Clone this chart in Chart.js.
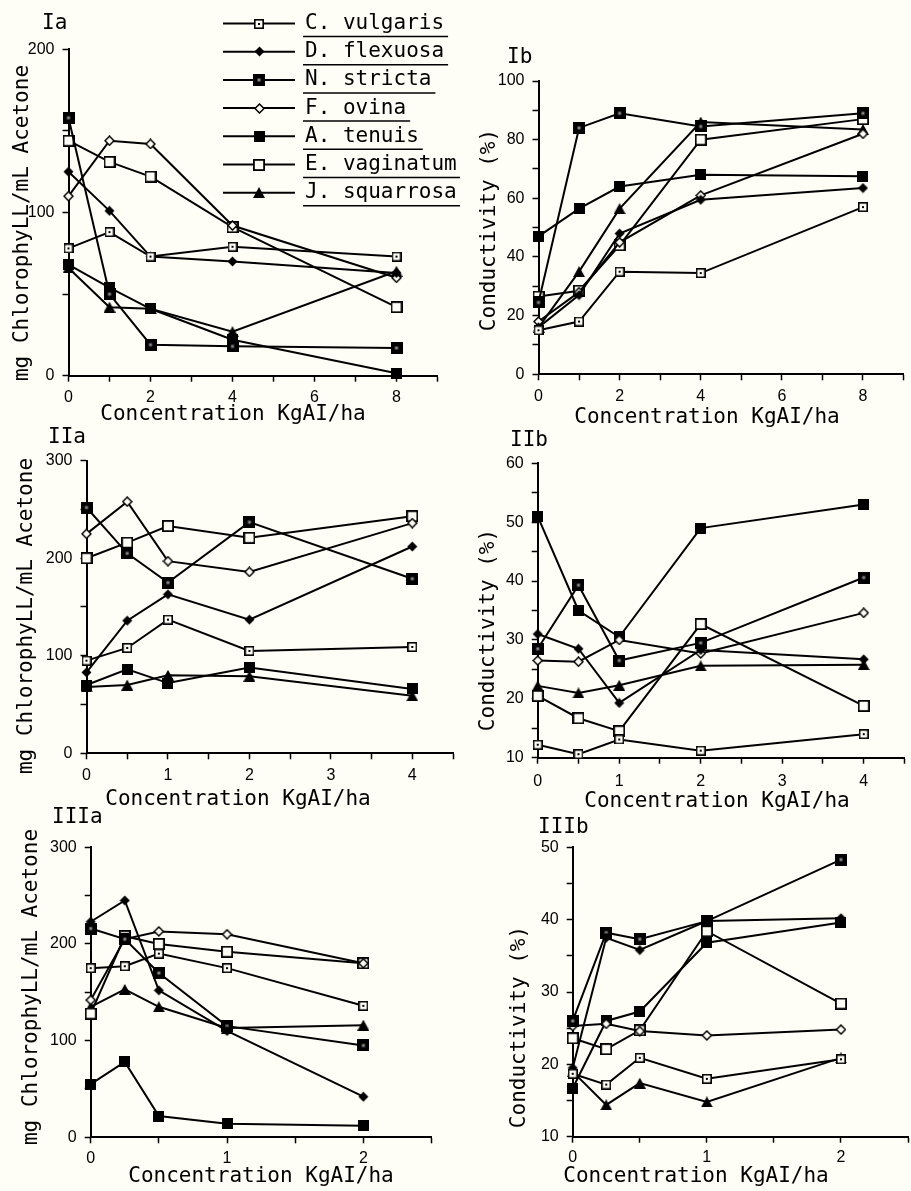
<!DOCTYPE html>
<html>
<head>
<meta charset="utf-8">
<script src="https://cdn.jsdelivr.net/npm/chart.js@4.4.1/dist/chart.umd.min.js"></script>
<style>
  html, body { margin: 0; padding: 0; background: #fefef7; overflow: hidden; }
  #page { position: relative; width: 911px; height: 1191px; }
  #page canvas { position: absolute; }
</style>
</head>
<body>
<div id="page"></div>
<script>
const species = ['C. vulgaris', 'D. flexuosa', 'N. stricta', 'F. ovina', 'A. tenuis', 'E. vaginatum', 'J. squarrosa']

// concentrations (KgAI/ha) for the three experiments
const concI = [0, 1, 2, 4, 8]
const concII = [0, 0.5, 1, 2, 4]
const concIII = [0, 0.25, 0.5, 1, 2]

// rows follow the species order above
const chlorophyllI = [
  [78, 88, 73, 79, 73],
  [125, 101, 73, 70, 63],
  [158, 50, 19, 18, 17],
  [110, 144, 142, 92, 60],
  [68, 54, 41, 22, 1.5],
  [144, 131, 122, 91, 42],
  [66, 42, 41, 27, 64]
]
const conductivityI = [
  [15, 18, 35, 34.5, 57],
  [16, 27, 48, 59.5, 63.5],
  [24.5, 84, 89, 84.5, 89],
  [18, 28, 45, 61, 82],
  [47, 56.5, 64, 68, 67.5],
  [26.5, 28.5, 44, 80, 87],
  [16, 35, 56.5, 86, 83.5]
]
const chlorophyllII = [
  [95, 108, 137, 105, 109],
  [83, 136, 163, 137, 212],
  [252, 205, 175, 237, 179],
  [225, 258, 197, 186, 236],
  [70, 86, 72, 88, 66],
  [200, 216, 233, 221, 243],
  [68, 70, 80, 79, 59]
]
const conductivityII = [
  [12.2, 10.6, 13.1, 11.2, 14],
  [31, 28.5, 19.3, 28.3, 26.7],
  [28.5, 39.3, 26.5, 29.5, 40.6],
  [26.5, 26.3, 30, 27.7, 34.6],
  [51, 35, 30.5, 49, 53],
  [20.5, 16.7, 14.5, 32.7, 18.8],
  [22.2, 21, 22.3, 25.6, 25.8]
]
const chlorophyllIII = [
  [175, 177, 190, 175, 136],
  [223, 245, 152, 110, 42],
  [216, 205, 170, 115, 95],
  [142, 205, 213, 210, 180],
  [55, 78, 22, 14, 12],
  [128, 208, 200, 192, 180],
  [135, 153, 135, 113, 116]
]
const conductivityIII = [
  [18.7, 17.2, 20.9, 18, 20.7],
  [19.5, 37.5, 35.8, 39.8, 40.2],
  [26, 38.2, 37.3, 39.8, 48.3],
  [25.3, 25.6, 24.6, 24, 24.8],
  [16.7, 26, 27.3, 36.8, 39.6],
  [23.6, 22.1, 24.7, 38.4, 28.4],
  [19, 14.4, 17.4, 14.8, 20.9]
]

const chlTitle = 'mg ChlorophyLL/mL Acetone'
const condTitle = 'Conductivity (%)'
const concTitle = 'Concentration KgAI/ha'

const paper = '#fefef7'
const ink = '#000'
const monoFont = '21px "DejaVu Sans Mono", monospace'

function marker(w, h, draw) {
  const c = document.createElement('canvas')
  c.width = w
  c.height = h
  draw(c.getContext('2d'), w, h)
  return c
}

function diamond(g, w, h, inset) {
  g.beginPath()
  g.moveTo(w / 2, inset)
  g.lineTo(w - inset, h / 2)
  g.lineTo(w / 2, h - inset)
  g.lineTo(inset, h / 2)
  g.closePath()
}

const markers = [
  marker(10, 10, g => { // square with a dot
    g.fillStyle = paper; g.fillRect(0, 0, 10, 10)
    g.strokeStyle = ink; g.lineWidth = 1.6; g.strokeRect(0.8, 0.8, 8.4, 8.4)
    g.fillStyle = ink; g.fillRect(4, 4, 2, 2)
  }),
  marker(11, 11, (g, w, h) => { diamond(g, w, h, 0.5); g.fillStyle = ink; g.fill() }),
  marker(12, 12, g => {
    g.fillStyle = ink; g.fillRect(0, 0, 12, 12)
    g.fillStyle = '#888'; g.fillRect(4.5, 4.5, 3, 3)
  }),
  marker(11, 11, (g, w, h) => {
    diamond(g, w, h, 1); g.fillStyle = paper; g.fill()
    g.strokeStyle = ink; g.lineWidth = 1.5; g.stroke()
  }),
  marker(11, 11, g => { g.fillStyle = ink; g.fillRect(0, 0, 11, 11) }),
  marker(12, 12, g => {
    g.fillStyle = paper; g.fillRect(0, 0, 12, 12)
    g.strokeStyle = ink; g.lineWidth = 1.8; g.strokeRect(0.9, 0.9, 10.2, 10.2)
  }),
  marker(12, 11, g => {
    g.beginPath(); g.moveTo(6, 0); g.lineTo(12, 11); g.lineTo(0, 11); g.closePath()
    g.fillStyle = ink; g.fill()
  })
]

// panel label, axis titles and the Ia legend, placed in page coordinates
const panelText = {
  id: 'panelText',
  afterDraw(chart, args, opts) {
    const ctx = chart.ctx
    const [ox, oy] = opts.origin
    ctx.save()
    ctx.fillStyle = ink
    ctx.font = monoFont
    ctx.textBaseline = 'middle'

    ctx.textAlign = 'left'
    ctx.fillText(opts.label, opts.labelAt[0] - ox, opts.labelAt[1] - oy)

    ctx.textAlign = 'center'
    ctx.fillText(opts.xTitle, opts.xTitleAt[0] - ox, opts.xTitleAt[1] - oy)

    ctx.save()
    ctx.translate(opts.yTitleAt[0] - ox, opts.yTitleAt[1] - oy)
    ctx.rotate(-Math.PI / 2)
    ctx.fillText(opts.yTitle, 0, 0)
    ctx.restore()

    if (opts.legend) {
      const lg = opts.legend
      ctx.textAlign = 'left'
      chart.data.datasets.forEach((ds, i) => {
        const y = lg.top + i * lg.rowGap - oy
        ctx.strokeStyle = ink
        ctx.lineWidth = 2
        ctx.beginPath()
        ctx.moveTo(lg.lineFrom - ox, y)
        ctx.lineTo(lg.lineTo - ox, y)
        ctx.stroke()
        const m = ds.pointStyle
        const mx = (lg.lineFrom + lg.lineTo) / 2 - ox
        ctx.drawImage(m, Math.round(mx - m.width / 2), Math.round(y - m.height / 2))
        ctx.fillText(ds.label, lg.textX - ox, y)
        const w = ctx.measureText(ds.label).width
        ctx.lineWidth = 1.5
        ctx.beginPath()
        ctx.moveTo(lg.textX - 2 - ox, y + 13)
        ctx.lineTo(lg.textX + w + 4 - ox, y + 13)
        ctx.stroke()
      })
    }
    ctx.restore()
  }
}

const panels = [
  { label: 'Ia', box: [0, 0, 460, 435], area: [68.5, 437.5, 49.3, 375.7],
    xs: concI, values: chlorophyllI, xMax: 9, xStep: 1, xLabelEvery: 2,
    yMin: 0, yMax: 200, yStep: 50, yLabelEvery: 100, xPad: 6,
    labelAt: [42, 24], xTitleAt: [233, 415], yTitleAt: [23, 223], yTitle: chlTitle,
    legend: { top: 23.5, rowGap: 28.2, lineFrom: 223, lineTo: 295, textX: 305 } },
  { label: 'Ib', box: [460, 0, 455, 435], area: [538.5, 903.5, 81, 374.3],
    xs: concI, values: conductivityI, xMax: 9, xStep: 1, xLabelEvery: 2,
    yMin: 0, yMax: 100, yStep: 10, yLabelEvery: 20, xPad: 7,
    labelAt: [507, 58], xTitleAt: [707, 418], yTitleAt: [490, 230], yTitle: condTitle },
  { label: 'IIa', box: [0, 425, 460, 390], area: [86.5, 453.7, 460.7, 753.3],
    xs: concII, values: chlorophyllII, xMax: 4.5, xStep: 0.5, xLabelEvery: 1,
    yMin: 0, yMax: 300, yStep: 50, yLabelEvery: 100, xPad: 7,
    labelAt: [48, 438], xTitleAt: [238, 800], yTitleAt: [27, 616], yTitle: chlTitle },
  { label: 'IIb', box: [460, 425, 455, 390], area: [537.7, 904.5, 463.3, 757.7],
    xs: concII, values: conductivityII, xMax: 4.5, xStep: 0.5, xLabelEvery: 1,
    yMin: 10, yMax: 60, yStep: 5, yLabelEvery: 10, xPad: 8,
    labelAt: [510, 441], xTitleAt: [717, 802], yTitleAt: [489, 630], yTitle: condTitle },
  { label: 'IIIa', box: [0, 805, 460, 386], area: [90.7, 431.5, 847.3, 1137.3],
    xs: concIII, values: chlorophyllIII, xMax: 2.5, xStep: 0.5, xLabelEvery: 1,
    yMin: 0, yMax: 300, yStep: 50, yLabelEvery: 100, xPad: 6,
    labelAt: [52, 818], xTitleAt: [261, 1177], yTitleAt: [32, 987], yTitle: chlTitle },
  { label: 'IIIb', box: [460, 805, 455, 386], area: [572.7, 912, 847.3, 1136.7],
    xs: concIII, values: conductivityIII, xMax: 2.5, xStep: 0.5, xLabelEvery: 1,
    yMin: 10, yMax: 50, yStep: 5, yLabelEvery: 10, xPad: 5,
    labelAt: [538, 828], xTitleAt: [696, 1177], yTitleAt: [520, 1027], yTitle: condTitle }
]

const tickFont = { family: '"Liberation Sans", Arial, sans-serif', size: 16 }
const onEvery = (v, every) => Math.abs(v / every - Math.round(v / every)) < 1e-6

panels.forEach(p => {
  const [cx, cy, cw, ch] = p.box
  const [L, R, T, B] = p.area
  const canvas = document.createElement('canvas')
  canvas.width = cw
  canvas.height = ch
  canvas.style.left = cx + 'px'
  canvas.style.top = cy + 'px'
  document.getElementById('page').appendChild(canvas)

  const lastX = p.xs[p.xs.length - 1]
  const axisGrid = {
    display: true, drawOnChartArea: false, drawTicks: true,
    tickLength: 6, tickColor: ink, tickWidth: 1.5
  }

  new Chart(canvas.getContext('2d'), {
    type: 'line',
    data: {
      datasets: species.map((name, i) => ({
        label: name,
        data: p.xs.map((x, j) => ({ x: x, y: p.values[i][j] })),
        borderColor: ink,
        borderWidth: 2,
        tension: 0,
        fill: false,
        clip: false,
        pointStyle: markers[i],
        pointRadius: 5,
        pointHoverRadius: 5
      }))
    },
    options: {
      responsive: false,
      animation: false,
      events: [],
      layout: { padding: { top: T - cy, right: cx + cw - R, left: 0, bottom: 0 } },
      scales: {
        x: {
          type: 'linear',
          min: 0,
          max: p.xMax,
          afterFit: s => { s.height = cy + ch - B },
          grid: axisGrid,
          border: { display: true, color: ink, width: 2 },
          ticks: {
            stepSize: p.xStep,
            autoSkip: false,
            maxRotation: 0,
            padding: p.xPad,
            color: ink,
            font: tickFont,
            callback: v => (onEvery(v, p.xLabelEvery) && v <= lastX) ? String(v) : ''
          }
        },
        y: {
          min: p.yMin,
          max: p.yMax,
          afterFit: s => { s.width = L - cx },
          grid: axisGrid,
          border: { display: true, color: ink, width: 2 },
          ticks: {
            stepSize: p.yStep,
            autoSkip: false,
            padding: 8,
            color: ink,
            font: tickFont,
            callback: v => onEvery(v, p.yLabelEvery) ? String(v) : ''
          }
        }
      },
      plugins: {
        legend: { display: false },
        tooltip: { enabled: false },
        panelText: {
          origin: [cx, cy],
          label: p.label,
          labelAt: p.labelAt,
          xTitle: concTitle,
          xTitleAt: p.xTitleAt,
          yTitle: p.yTitle,
          yTitleAt: p.yTitleAt,
          legend: p.legend || null
        }
      }
    },
    plugins: [panelText]
  })
})
</script>
</body>
</html>
